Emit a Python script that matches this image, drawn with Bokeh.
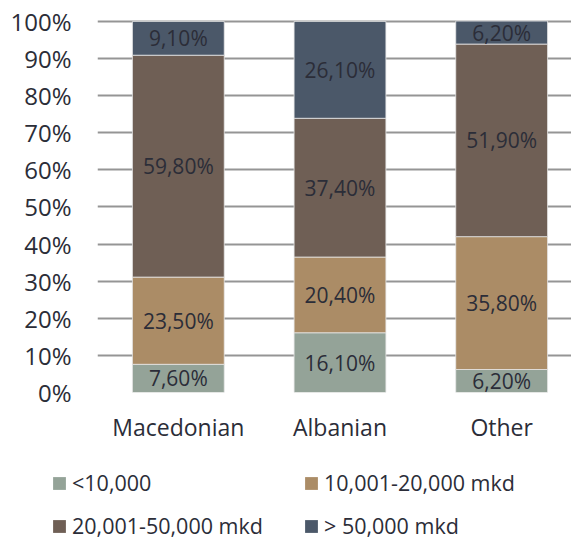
from bokeh.plotting import figure
from bokeh.models import (ColumnDataSource, Range1d, FixedTicker, Legend, LegendItem)
from bokeh.layouts import column
from bokeh.core.properties import value
from bokeh.embed import file_html
from bokeh.resources import INLINE

categories = ["Macedonian", "Albanian", "Other"]
series_names = ["<10,000", "10,001-20,000 mkd", "20,001-50,000 mkd", "> 50,000 mkd"]
below_10k = [7.6, 16.1, 6.2]
from_10k_to_20k = [23.5, 20.4, 35.8]
from_20k_to_50k = [59.8, 37.4, 51.9]
above_50k = [9.1, 26.1, 6.2]
y_ticks = [0, 10, 20, 30, 40, 50, 60, 70, 80, 90, 100]
y_tick_labels = ["0%", "10%", "20%", "30%", "40%", "50%", "60%", "70%", "80%", "90%", "100%"]
colors = ["#94A398", "#AB8C66", "#6F5F55", "#4B5869"]

series = [below_10k, from_10k_to_20k, from_20k_to_50k, above_50k]
FONT = "Open Sans"
TXT = "#2B2D38"

p = figure(width=571, height=460, output_backend="svg", toolbar_location=None,
           x_range=Range1d(-0.5, 2.432), y_range=Range1d(0, 101.6),
           min_border_left=97, min_border_right=0, min_border_top=15, min_border_bottom=68)
p.outline_line_color = None
p.background_fill_color = "white"
p.border_fill_color = "white"
p.frame_align = False

xs = list(range(len(categories)))
bottoms = [0.0] * len(categories)
for name, vals, col in zip(series_names, series, colors):
    tops = [b + v for b, v in zip(bottoms, vals)]
    src = ColumnDataSource(dict(
        x=xs, bottom=bottoms, top=tops,
        mid=[(b + t) / 2 for b, t in zip(bottoms, tops)],
        label=[("%.2f%%" % v).replace(".", ",") for v in vals]))
    p.vbar(x="x", bottom="bottom", top="top", width=0.568, source=src,
           fill_color=col, line_color="#E6E6E6", line_width=0.8)
    p.text(x="x", y="mid", text="label", source=src, text_align="center",
           text_baseline="middle", text_font=value(FONT), text_font_size="21px",
           text_color=TXT)
    bottoms = tops

# grid
p.xgrid.visible = False
p.ygrid.ticker = FixedTicker(ticks=y_ticks)
p.ygrid.grid_line_color = "#959595"
p.ygrid.grid_line_width = 2

# y axis
p.yaxis.ticker = FixedTicker(ticks=y_ticks)
p.yaxis.major_label_overrides = {t: l for t, l in zip(y_ticks, y_tick_labels)}
p.yaxis.axis_line_color = None
p.yaxis.major_tick_line_color = None
p.yaxis.minor_tick_line_color = None
p.yaxis.major_tick_out = 0
p.yaxis.major_tick_in = 0
p.yaxis.major_label_standoff = 26
p.yaxis.major_label_text_font = FONT
p.yaxis.major_label_text_font_size = "24px"
p.yaxis.major_label_text_color = TXT

# x axis
p.xaxis.ticker = FixedTicker(ticks=xs)
p.xaxis.major_label_overrides = {i: c for i, c in zip(xs, categories)}
p.xaxis.axis_line_color = None
p.xaxis.major_tick_line_color = None
p.xaxis.minor_tick_line_color = None
p.xaxis.major_tick_out = 0
p.xaxis.major_tick_in = 0
p.xaxis.major_label_standoff = 18
p.xaxis.major_label_text_font = FONT
p.xaxis.major_label_text_font_size = "23px"
p.xaxis.major_label_text_color = TXT

# legend in its own strip below the chart
lg = figure(width=571, height=80, output_backend="svg", toolbar_location=None,
            x_range=Range1d(0, 1), y_range=Range1d(0, 1),
            min_border=0, min_border_left=0, min_border_right=0,
            min_border_top=0, min_border_bottom=0)
lg.frame_align = False
lg.axis.visible = False
lg.grid.visible = False
lg.outline_line_color = None
leg_renderers = []
nan = float("nan")
for name, col in zip(series_names, colors):
    r = lg.vbar(x=[nan], top=[nan], width=0.1, fill_color=col, line_color=None)
    leg_renderers.append((name, r))

def add_legend(items, loc):
    legend = Legend(items=[LegendItem(label=n, renderers=[r]) for n, r in items],
                    orientation="horizontal", location=loc,
                    label_text_font=FONT, label_text_font_size="21.5px", label_text_color=TXT,
                    glyph_width=16, glyph_height=16, label_standoff=5, label_width=212,
                    label_height=24, spacing=19, padding=0, margin=0,
                    border_line_color=None, background_fill_alpha=0)
    lg.add_layout(legend, "center")

add_legend(leg_renderers[:2], (51, 43))
add_legend(leg_renderers[2:], (51, 0))

open("out.html", "w").write(file_html(column(p, lg), INLINE))
